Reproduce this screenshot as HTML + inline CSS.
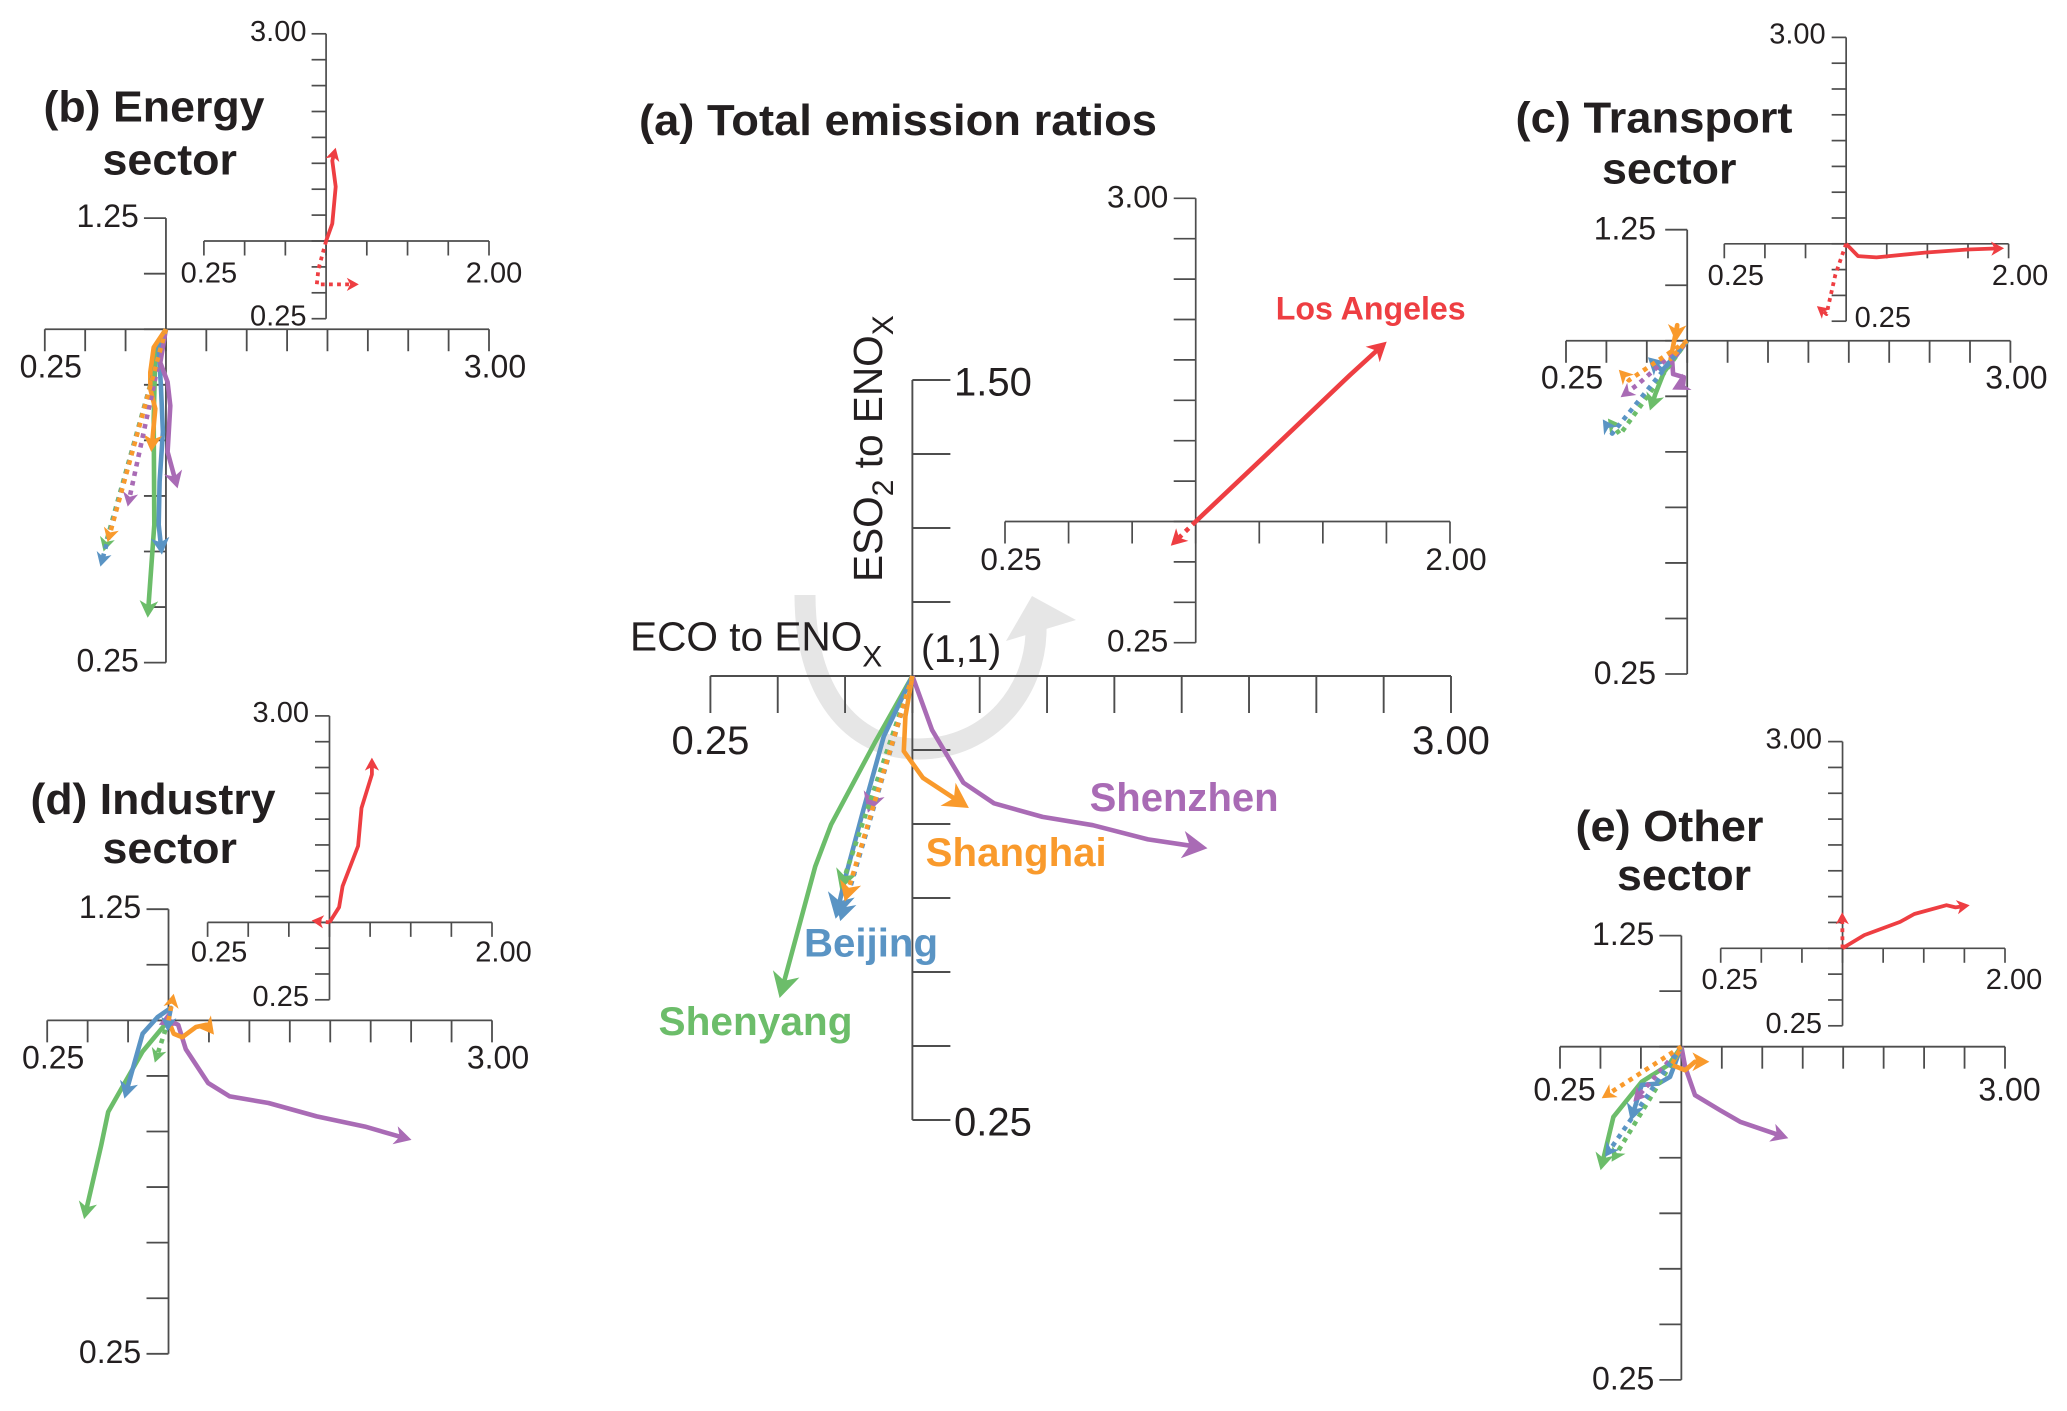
<!DOCTYPE html>
<html lang="en">
<head>
<meta charset="utf-8">
<title>Emission ratios by sector</title>
<style>
html,body{margin:0;padding:0;background:#fff;}
svg{display:block;}
text{font-family:"Liberation Sans",sans-serif;fill:#231f20;}
.title{font-weight:700;font-size:44px;}
.city{font-weight:700;font-size:40px;}
</style>
</head>
<body>
<svg id="chart" xmlns="http://www.w3.org/2000/svg" width="2067" height="1411" viewBox="0 0 2067 1411">
  <g>
    <path d="M805,595 C805,690 850,749 918,749 C990,749 1038,690 1036,625" fill="none" stroke="#e6e6e6" stroke-width="21"/>
    <polygon points="1032,596 1076,620 1006,641" fill="#e6e6e6"/>
  </g>
  <g id="plots"></g>

  <text class="title" x="639" y="135" textLength="518" lengthAdjust="spacingAndGlyphs">(a) Total emission ratios</text>
  <text class="title" x="43.5" y="121.6" textLength="221" lengthAdjust="spacingAndGlyphs">(b) Energy</text>
  <text class="title" x="102.5" y="174.5" textLength="134.5" lengthAdjust="spacingAndGlyphs">sector</text>
  <text class="title" x="1515.5" y="132.5" textLength="277" lengthAdjust="spacingAndGlyphs">(c) Transport</text>
  <text class="title" x="1602" y="183.5" textLength="134.5" lengthAdjust="spacingAndGlyphs">sector</text>
  <text class="title" x="30.5" y="814" textLength="245" lengthAdjust="spacingAndGlyphs">(d) Industry</text>
  <text class="title" x="102.5" y="863" textLength="134.5" lengthAdjust="spacingAndGlyphs">sector</text>
  <text class="title" x="1575.5" y="841" textLength="188" lengthAdjust="spacingAndGlyphs">(e) Other</text>
  <text class="title" x="1617" y="890" textLength="134" lengthAdjust="spacingAndGlyphs">sector</text>

  <text x="630" y="650.7" font-size="40.6">ECO to ENO<tspan dy="16" font-size="30">X</tspan></text>
  <text x="921" y="662" font-size="39">(1,1)</text>
  <text transform="translate(882,582) rotate(-90)" font-size="40.6">ESO<tspan dy="11" font-size="30">2</tspan><tspan dy="-11"> to ENO</tspan><tspan dy="11" font-size="30">X</tspan></text>

  <text class="city" x="1089.6" y="811" textLength="189" lengthAdjust="spacingAndGlyphs" style="fill:#a96bb5">Shenzhen</text>
  <text class="city" x="925.7" y="866" textLength="181" lengthAdjust="spacingAndGlyphs" style="fill:#f99a2c">Shanghai</text>
  <text class="city" x="804" y="956.5" textLength="134" lengthAdjust="spacingAndGlyphs" style="fill:#5a94c4">Beijing</text>
  <text class="city" x="658.5" y="1035" textLength="194" lengthAdjust="spacingAndGlyphs" style="fill:#6cbd6a">Shenyang</text>
  <text x="1275.7" y="319.3" font-size="32" font-weight="700" textLength="190" lengthAdjust="spacingAndGlyphs" style="fill:#ee3e42">Los Angeles</text>
</svg>

<script>
// ---- tick values and printed labels ----
const wideXTicks = [0.25,0.5,0.75,1,1.25,1.5,1.75,2,2.25,2.5,2.75,3];
const insetXTicks = [0.25,0.5,0.75,1,1.25,1.5,1.75,2];
const mainYTicks = [0.25,0.375,0.5,0.625,0.75,0.875,1,1.125,1.25,1.375,1.5];
const subYTicks = [0.25,0.375,0.5,0.625,0.75,0.875,1,1.125,1.25];
const insetYTicks = [0.25,0.5,0.75,1,1.25,1.5,1.75,2,2.25,2.5,2.75,3];
const wideXLabels = ["0.25","3.00"];
const insetXLabels = ["0.25","2.00"];
const mainYLabels = ["0.25","1.50"];
const subYLabels = ["0.25","1.25"];
const insetYLabels = ["0.25","3.00"];

// ---- (a) total: [ECO/ENOx ratio, ESO2/ENOx ratio] ----
const aShenyang = [[1,1],[0.860,0.887],[0.698,0.749],[0.639,0.678],[0.507,0.456]];
const aBeijing = [[1,1],[0.894,0.898],[0.818,0.774],[0.749,0.656],[0.715,0.590]];
const aShanghai = [[1,1],[0.974,0.932],[0.968,0.873],[1.039,0.828],[1.210,0.777]];
const aShenzhen = [[1,1],[1.073,0.909],[1.189,0.820],[1.303,0.785],[1.483,0.762],[1.670,0.748],[1.875,0.724],[2.096,0.709]];
const aShenyangDot = [[1,1],[0.732,0.639]];
const aBeijingDot = [[1,1],[0.732,0.586]];
const aShanghaiDot = [[1,1],[0.749,0.619]];
const aShenzhenDot = [[1,1],[0.835,0.769]];
const aLosAngeles = [[1,1],[1.305,1.454],[1.607,1.907],[1.751,2.113]];
const aLosAngelesDot = [[1,1],[0.902,0.850]];

// ---- (b) energy ----
const bShenyang = [[1,1],[0.934,0.948],[0.924,0.799],[0.928,0.560],[0.887,0.351]];
const bBeijing = [[1,1],[0.955,0.955],[0.969,0.873],[0.981,0.769],[0.961,0.657],[0.955,0.560],[0.975,0.493]];
const bShanghai = [[1,1],[0.924,0.959],[0.903,0.903],[0.903,0.866],[0.934,0.821],[0.909,0.724]];
const bShenzhen = [[1,1],[0.965,0.925],[1.010,0.881],[1.027,0.828],[1.010,0.724],[1.072,0.642]];
const bShenyangDot = [[1,1],[0.614,0.500]];
const bBeijingDot = [[1,1],[0.594,0.466]];
const bShanghaiDot = [[1,1],[0.639,0.521]];
const bShenzhenDot = [[1,1],[0.763,0.601]];
const bLosAngeles = [[1,1],[1.038,1.168],[1.059,1.524],[1.038,1.775],[1.059,1.901]];
const bLosAngelesDot = [[1,1],[0.953,0.728],[0.943,0.581],[1.201,0.581]];

// ---- (c) transport ----
const cShenyang = [[1,1],[0.856,0.929],[0.804,0.881],[0.769,0.843]];
const cBeijing = [[1,1],[0.845,0.933],[0.757,0.963]];
const cShanghai = [[1,1],[0.897,0.959],[0.938,1.035],[0.930,0.998]];
const cShenzhen = [[1,1],[0.907,0.955],[0.913,0.925],[0.979,0.918],[0.975,0.903],[0.907,0.890]];
const cShenyangDot = [[1,1],[0.584,0.789],[0.509,0.825]];
const cBeijingDot = [[1,1],[0.536,0.791],[0.478,0.823]];
const cShanghaiDot = [[1,1],[0.639,0.911],[0.577,0.935]];
const cShenzhenDot = [[1,1],[0.691,0.901],[0.588,0.873]];
const cLosAngeles = [[1,1],[1.073,0.881],[1.187,0.868],[1.484,0.915],[1.748,0.945],[1.972,0.957]];
const cLosAngelesDot = [[1,1],[0.934,0.702],[0.879,0.319],[0.820,0.396]];

// ---- (d) industry ----
const dShenyang = [[1,1],[0.840,0.930],[0.627,0.794],[0.584,0.719],[0.478,0.553]];
const dBeijing = [[1,1],[1.015,1.028],[0.932,1.007],[0.840,0.970],[0.727,0.824]];
const dShanghai = [[1,1],[1.032,0.970],[1.085,0.962],[1.170,0.985],[1.234,0.990],[1.281,0.968]];
const dShenzhen = [[1,1],[1.060,0.990],[1.107,0.935],[1.245,0.859],[1.379,0.829],[1.618,0.814],[1.916,0.784],[2.215,0.761],[2.502,0.731]];
const dShenyangDot = [[1,1],[0.915,0.905]];
const dBeijingDot = [[1,1],[0.994,0.975]];
const dShanghaiDot = [[1,1],[1.032,1.060]];
const dShenzhenDot = [[1,1],[0.940,0.990]];
const dLosAngeles = [[1,1],[1.059,1.147],[1.081,1.350],[1.176,1.740],[1.197,2.107],[1.261,2.432],[1.261,2.596]];
const dLosAngelesDot = [[1,1],[0.890,1.017]];

// ---- (e) other ----
const eShenyang = [[1,1],[0.920,0.959],[0.755,0.921],[0.580,0.842],[0.501,0.722]];
const eBeijing = [[1,1],[0.930,0.932],[0.858,0.917],[0.755,0.914],[0.687,0.833]];
const eShanghai = [[1,1],[0.940,0.959],[1.023,0.947],[1.084,0.966],[1.173,0.966]];
const eShenzhen = [[1,1],[1.023,0.955],[1.084,0.891],[1.239,0.857],[1.363,0.831],[1.661,0.794]];
const eShenyangDot = [[1,1],[0.569,0.741]];
const eBeijingDot = [[1,1],[0.528,0.752]];
const eShanghaiDot = [[1,1],[0.508,0.884]];
const eShenzhenDot = [[1,1],[0.703,0.876]];
const eLosAngeles = [[1,1],[1.134,1.128],[1.354,1.255],[1.442,1.332],[1.640,1.417],[1.695,1.396],[1.783,1.417]];
const eLosAngelesDot = [[1,1],[0.998,1.349]];

// ---- styling ----
const RED = '#ee3e42', PURPLE = '#a96bb5', ORANGE = '#f99a2c', BLUE = '#5a94c4', GREEN = '#6cbd6a';
const NS = 'http://www.w3.org/2000/svg';
const plots = document.getElementById('plots');

function linear(d0, d1, r0, r1) {
  return function (v) { return r0 + (v - d0) * (r1 - r0) / (d1 - d0); };
}

function drawLine(parent, name, x1, y1, x2, y2, w) {
  const el = document.createElementNS(NS, 'line');
  
  
  el.setAttribute('x1', x1);
  el.setAttribute('y1', y1);
  el.setAttribute('x2', x2);
  el.setAttribute('y2', y2);
  el.setAttribute('stroke', '#4d4d4d');
  el.setAttribute('stroke-width', w);
  parent.appendChild(el);
}

function drawLabel(parent, name, str, x, y, size, anchor) {
  const el = document.createElementNS(NS, 'text');
  
  
  el.setAttribute('x', x);
  el.setAttribute('y', y);
  el.setAttribute('font-size', size);
  el.setAttribute('text-anchor', anchor);
  el.textContent = str;
  parent.appendChild(el);
}

function drawSeries(parent, name, data, color, dotted, sc, lw, head) {
  const g = document.createElementNS(NS, 'g');
  
  
  const pts = data.map(function (d) { return [sc.x(d[0]), sc.y(d[1])]; });
  const n = pts.length;
  const tip = pts[n - 1];
  let prev = pts[n - 2];
  let dx = tip[0] - prev[0], dy = tip[1] - prev[1];
  let len = Math.hypot(dx, dy) || 1;
  dx /= len; dy /= len;
  const short = pts.slice();
  const trim = Math.min(head * 0.7, len * 0.9);
  short[n - 1] = [tip[0] - dx * trim, tip[1] - dy * trim];
  const line = document.createElementNS(NS, 'polyline');
  
  
  line.setAttribute('points', short.map(function (p) { return p[0].toFixed(1) + ',' + p[1].toFixed(1); }).join(' '));
  line.setAttribute('fill', 'none');
  line.setAttribute('stroke', color);
  line.setAttribute('stroke-width', lw);
  line.setAttribute('stroke-linejoin', 'round');
  if (dotted) {
    line.setAttribute('stroke-dasharray', lw + ' ' + (lw + 0.5));
  }
  g.appendChild(line);
  const w = head * 0.55, nx = -dy, ny = dx;
  const bx = tip[0] - dx * head, by = tip[1] - dy * head;
  const mx = tip[0] - dx * head * 0.72, my = tip[1] - dy * head * 0.72;
  const arrow = document.createElementNS(NS, 'polygon');
  
  
  arrow.setAttribute('points', [tip, [bx + nx * w, by + ny * w], [mx, my], [bx - nx * w, by - ny * w]].map(function (p) { return p[0].toFixed(1) + ',' + p[1].toFixed(1); }).join(' '));
  arrow.setAttribute('fill', color);
  g.appendChild(arrow);
  parent.appendChild(g);
}

function drawPanel(p) {
  const g = document.createElementNS(NS, 'g');
  
  
  plots.appendChild(g);
  const x = linear(p.xDom[0], p.xDom[1], p.xRange[0], p.xRange[1]);
  const y = linear(p.yDom[0], p.yDom[1], p.yRange[0], p.yRange[1]);
  const x0 = x(1), y0 = y(1);
  drawLine(g, p.name + '-x-axis', p.xRange[0], y0, p.xRange[1], y0, p.axisW);
  drawLine(g, p.name + '-y-axis', x0, p.yRange[0], x0, p.yRange[1], p.axisW);
  p.xTicks.forEach(function (v) {
    drawLine(g, p.name + '-x-tick', x(v), y0, x(v), y0 + p.xTickLen, p.axisW);
  });
  p.yTicks.forEach(function (v) {
    drawLine(g, p.name + '-y-tick', x0, y(v), x0 + p.yTickLen, y(v), p.axisW);
  });
  p.xLabels.forEach(function (t) {
    drawLabel(g, p.name + '-x-label', t, x(Number(t)) + p.xLabelDx, p.xLabelY, p.font, 'middle');
  });
  p.yLabels.forEach(function (t, i) {
    const side = (i === 0 && p.bottomLabelX) ? [p.bottomLabelX, 'start'] : [p.yLabelX, p.yAnchor];
    drawLabel(g, p.name + '-y-label', t, side[0], y(Number(t)) + p.yLabelDy, p.font, side[1]);
  });
  p.series.forEach(function (s) {
    drawSeries(g, p.name + '-' + s[0], s[1], s[2], s[3], { x: x, y: y }, p.lw, s[3] ? p.headDot : p.head);
  });
}

function cities(a, b, c, d, aDot, bDot, cDot, dDot) {
  return [
    ['shenyang', a, GREEN, false], ['beijing', b, BLUE, false],
    ['shenzhen', d, PURPLE, false], ['shanghai', c, ORANGE, false],
    ['shenzhen-dotted', dDot, PURPLE, true], ['shenyang-dotted', aDot, GREEN, true],
    ['beijing-dotted', bDot, BLUE, true], ['shanghai-dotted', cDot, ORANGE, true]
  ];
}

function sectorPanel(name, xRange, yRange, xLabelY, dx, yLabelX, dy, series) {
  return { name: name, xDom: [0.25, 3], yDom: [0.25, 1.25], xRange: xRange, yRange: yRange,
    xTicks: wideXTicks, yTicks: subYTicks, xLabels: wideXLabels, yLabels: subYLabels,
    xTickLen: 22, yTickLen: -22, axisW: 1.8, font: 32, xLabelY: xLabelY, xLabelDx: dx,
    yLabelX: yLabelX, yAnchor: 'end', yLabelDy: dy, lw: 4.6, head: 17, headDot: 14, series: series };
}

function insetPanel(name, xRange, yRange, xLabelY, dx, yLabelX, dy, solid, dot, bottomLabelX) {
  return { name: name, xDom: [0.25, 2], yDom: [0.25, 3], xRange: xRange, yRange: yRange,
    xTicks: insetXTicks, yTicks: insetYTicks, xLabels: insetXLabels, yLabels: insetYLabels,
    xTickLen: 14.5, yTickLen: -14.5, axisW: 1.7, font: 29, xLabelY: xLabelY, xLabelDx: dx,
    yLabelX: yLabelX, yAnchor: 'end', yLabelDy: dy, bottomLabelX: bottomLabelX, lw: 3.8, head: 13, headDot: 12,
    series: [['los-angeles-dotted', dot, RED, true], ['los-angeles', solid, RED, false]] };
}

drawPanel({ name: 'panel-a', xDom: [0.25, 3], yDom: [0.25, 1.5], xRange: [710.4, 1451], yRange: [1120, 380],
  xTicks: wideXTicks, yTicks: mainYTicks, xLabels: wideXLabels, yLabels: mainYLabels,
  xTickLen: 37, yTickLen: 38, axisW: 1.9, font: 40, xLabelY: 754, xLabelDx: 0,
  yLabelX: 954, yAnchor: 'start', yLabelDy: 15.5, lw: 4.6, head: 25, headDot: 20,
  series: cities(aShenyang, aBeijing, aShanghai, aShenzhen, aShenyangDot, aBeijingDot, aShanghaiDot, aShenzhenDot) });
drawPanel(Object.assign(insetPanel('panel-a-inset', [1005, 1450], [642.7, 198.3], 570, 6, 1168.3, 9, aLosAngeles, aLosAngelesDot),
  { xTickLen: 22, yTickLen: -22, font: 31.5, lw: 4.6, head: 19, headDot: 16 }));

drawPanel(sectorPanel('panel-b', [44.8, 489], [662.6, 218.1], 377.3, 6, 138.8, 9,
  cities(bShenyang, bBeijing, bShanghai, bShenzhen, bShenyangDot, bBeijingDot, bShanghaiDot, bShenzhenDot)));
drawPanel(insetPanel('panel-b-inset', [203.9, 489], [318.7, 33.8], 282.7, 5, 306.5, 7, bLosAngeles, bLosAngelesDot));

drawPanel(sectorPanel('panel-c', [1566, 2010.4], [674, 229.7], 388.5, 6, 1656, 10,
  cities(cShenyang, cBeijing, cShanghai, cShenzhen, cShenyangDot, cBeijingDot, cShanghaiDot, cShenzhenDot)));
drawPanel(insetPanel('panel-c-inset', [1724.3, 2008.6], [321.2, 37.4], 285, 11.5, 1825.7, 6, cLosAngeles, cLosAngelesDot, 1854.6));

drawPanel(sectorPanel('panel-d', [47.2, 492], [1353.8, 909.2], 1068.6, 6, 141.2, 9,
  cities(dShenyang, dBeijing, dShanghai, dShenzhen, dShenyangDot, dBeijingDot, dShanghaiDot, dShenzhenDot)));
drawPanel(insetPanel('panel-d-inset', [207.6, 492], [999.8, 715.9], 961.4, 11.5, 309, 6, dLosAngeles, dLosAngelesDot));

drawPanel(sectorPanel('panel-e', [1560, 2005], [1379.9, 935.6], 1100.6, 4.5, 1654.3, 9.5,
  cities(eShenyang, eBeijing, eShanghai, eShenzhen, eShenyangDot, eBeijingDot, eShanghaiDot, eShenzhenDot)));
drawPanel(insetPanel('panel-e-inset', [1720.7, 2005], [1025.8, 741.6], 989, 9, 1822, 7, eLosAngeles, eLosAngelesDot));
</script>
</body>
</html>
